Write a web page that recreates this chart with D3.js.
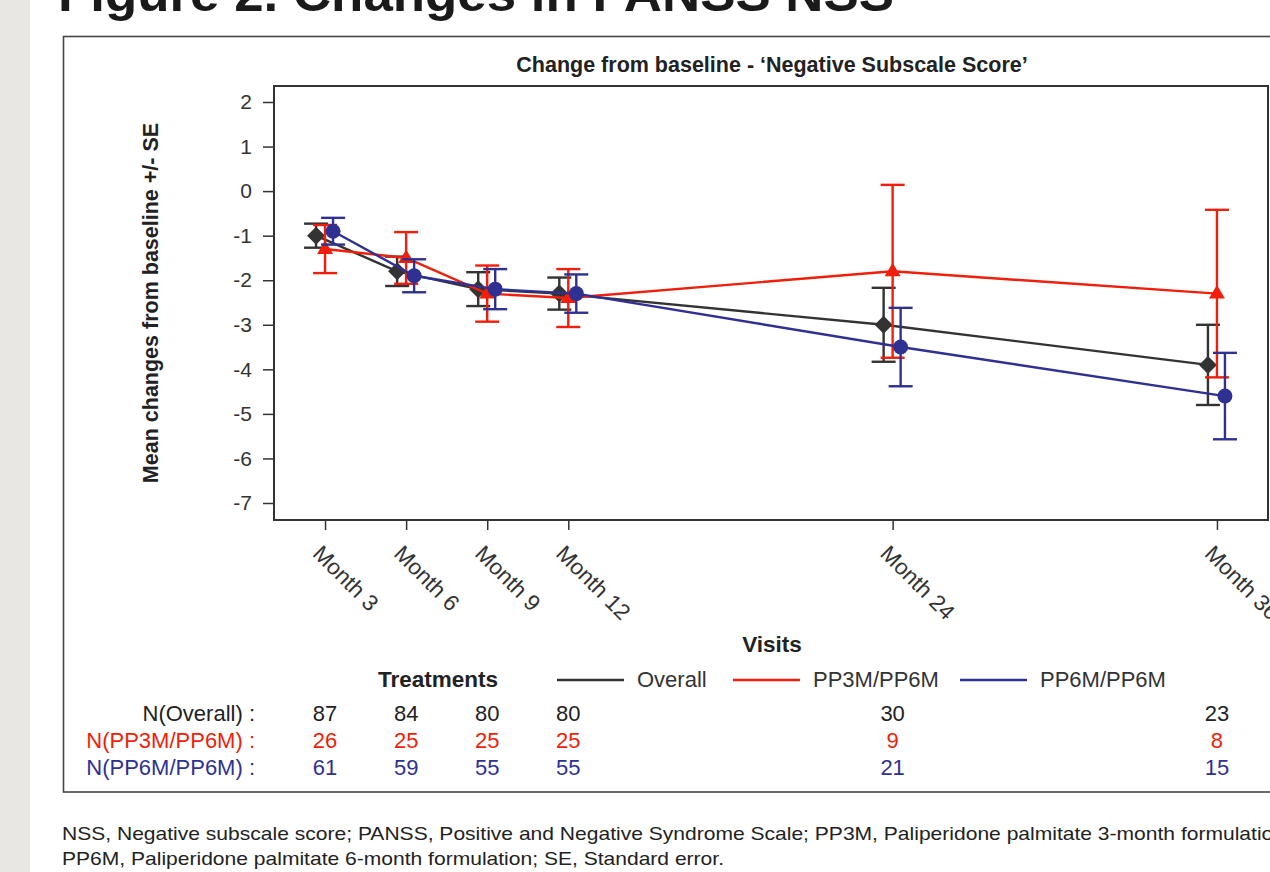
<!DOCTYPE html>
<html><head><meta charset="utf-8">
<script src="https://cdn.jsdelivr.net/npm/d3@7"></script>
<style>body{margin:0;background:#fff} svg{display:block}</style>
</head><body>
<svg id="c" width="1270" height="872"></svg>
<script>
// ---- data ----
const months = [3, 6, 9, 12, 24, 36];
const monthLabels = ["Month 3", "Month 6", "Month 9", "Month 12", "Month 24", "Month 36"];
const overallMean = [-1.0, -1.8, -2.2, -2.3, -3.0, -3.9];
const overallSE   = [0.27, 0.33, 0.38, 0.36, 0.83, 0.90];
const pp3mMean    = [-1.3, -1.5, -2.3, -2.4, -1.8, -2.3];
const pp3mSE      = [0.54, 0.58, 0.63, 0.65, 1.94, 1.88];
const pp6mMean    = [-0.9, -1.9, -2.2, -2.3, -3.5, -4.6];
const pp6mSE      = [0.30, 0.37, 0.45, 0.43, 0.88, 0.97];
const yTicks = [2, 1, 0, -1, -2, -3, -4, -5, -6, -7];
const nOverall = [87, 84, 80, 80, 30, 23];
const nPP3M    = [26, 25, 25, 25, 9, 8];
const nPP6M    = [61, 59, 55, 55, 21, 15];
const seriesNames = ["Overall", "PP3M/PP6M", "PP6M/PP6M"];
const rowLabels = ["N(Overall) :", "N(PP3M/PP6M) :", "N(PP6M/PP6M) :"];

// ---- styles ----
const DARK = "#333333", RED = "#f01e0a", BLUE = "#2e3192";
const FONT = "'Liberation Sans', Arial, Helvetica, sans-serif";
const svg = d3.select("#c");

// page decoration
svg.append("rect").attr("x", 0).attr("y", 0).attr("width", 30).attr("height", 872).attr("fill", "#e8e7e3");
svg.append("text").attr("x", 58).attr("y", 11)
  .attr("font-family", FONT).attr("font-weight", "bold").attr("font-size", 50)
  .attr("fill", "#1a1a1a").attr("textLength", 836).attr("lengthAdjust", "spacingAndGlyphs")
  .text("Figure 2. Changes in PANSS NSS");
svg.append("rect").attr("x", 63.5).attr("y", 36.5).attr("width", 1300).attr("height", 755.5)
  .attr("fill", "none").attr("stroke", "#444").attr("stroke-width", 1.6);

// ---- scales ----
const L = 274, R = 1268, T = 86, B = 520;
const x = d3.scaleLinear().domain([3 - 51 / 27, 36 + 51 / 27]).range([L, R]);
const y = d3.scaleLinear().domain([-7 - 17 / 44.56, 2 + 16 / 44.56]).range([B, T]);

// chart title
svg.append("text").attr("x", 772).attr("y", 72).attr("text-anchor", "middle")
  .attr("font-family", FONT).attr("font-weight", "bold").attr("font-size", 21.5).attr("fill", "#222")
  .text("Change from baseline - \u2018Negative Subscale Score\u2019");

// axes
const yAxis = svg.append("g").attr("transform", `translate(${L},0)`)
  .call(d3.axisLeft(y).tickValues(yTicks).tickSize(11).tickPadding(11).tickFormat(d => String(d)));
yAxis.select(".domain").remove();
yAxis.selectAll(".tick line").attr("stroke", DARK).attr("stroke-width", 1.5);
yAxis.selectAll(".tick text").attr("font-family", FONT).attr("font-size", 21).attr("fill", DARK);

const xAxis = svg.append("g").attr("transform", `translate(0,${B})`)
  .call(d3.axisBottom(x).tickValues(months).tickSize(10).tickFormat((d, i) => monthLabels[i]));
xAxis.select(".domain").remove();
xAxis.selectAll(".tick line").attr("stroke", DARK).attr("stroke-width", 1.5);
xAxis.selectAll(".tick text")
  .attr("font-family", FONT).attr("font-size", 22.5).attr("fill", DARK)
  .attr("text-anchor", "start").attr("y", 0).attr("dy", 0)
  .attr("transform", "translate(-14,35) rotate(45)");

svg.append("rect").attr("x", L).attr("y", T).attr("width", R - L).attr("height", B - T)
  .attr("fill", "none").attr("stroke", DARK).attr("stroke-width", 2);

// y label
svg.append("text").attr("transform", `translate(158,${(T + B) / 2}) rotate(-90)`)
  .attr("text-anchor", "middle").attr("font-family", FONT).attr("font-weight", "bold")
  .attr("font-size", 21.5).attr("fill", "#222").text("Mean changes from baseline +/- SE");

// ---- series ----
const series = [
  { name: seriesNames[0], mean: overallMean, se: overallSE, color: DARK, dx: -9, shape: "diamond" },
  { name: seriesNames[1], mean: pp3mMean, se: pp3mSE, color: RED, dx: 0, shape: "triangle" },
  { name: seriesNames[2], mean: pp6mMean, se: pp6mSE, color: BLUE, dx: 8, shape: "circle" }
];
const shapes = {
  diamond: "M0,-9L9,0L0,9L-9,0Z",
  triangle: "M0,-8.5L8,5L-8,5Z",
  circle: "M7.5,0A7.5,7.5 0 1,1 -7.5,0A7.5,7.5 0 1,1 7.5,0Z"
};
const line = d3.line();
series.forEach(s => {
  const g = svg.append("g");
  const pts = months.map((m, i) => [x(m) + s.dx, y(s.mean[i])]);
  g.append("path").attr("d", line(pts)).attr("fill", "none").attr("stroke", s.color).attr("stroke-width", 2.4);
  months.forEach((m, i) => {
    const cx = x(m) + s.dx, hi = y(s.mean[i] + s.se[i]), lo = y(s.mean[i] - s.se[i]);
    g.append("line").attr("x1", cx).attr("x2", cx).attr("y1", hi).attr("y2", lo)
      .attr("stroke", s.color).attr("stroke-width", 2.4);
    [hi, lo].forEach(yy => g.append("line").attr("x1", cx - 12).attr("x2", cx + 12)
      .attr("y1", yy).attr("y2", yy).attr("stroke", s.color).attr("stroke-width", 2.4));
    g.append("path").attr("d", shapes[s.shape]).attr("transform", `translate(${cx},${y(s.mean[i])})`)
      .attr("fill", s.color);
  });
});

// x title
svg.append("text").attr("x", 772).attr("y", 652).attr("text-anchor", "middle")
  .attr("font-family", FONT).attr("font-weight", "bold").attr("font-size", 22.5).attr("fill", "#222").text("Visits");

// legend
svg.append("text").attr("x", 378).attr("y", 687).attr("font-family", FONT).attr("font-weight", "bold")
  .attr("font-size", 22.5).attr("fill", "#222").text("Treatments");
const legX = [557, 733, 960];
series.forEach((s, i) => {
  svg.append("line").attr("x1", legX[i]).attr("x2", legX[i] + 67).attr("y1", 680).attr("y2", 680)
    .attr("stroke", s.color).attr("stroke-width", 2.4);
  svg.append("text").attr("x", legX[i] + 80).attr("y", 687).attr("font-family", FONT)
    .attr("font-size", 22).attr("fill", DARK).text(s.name);
});

// N table
const nRows = [nOverall, nPP3M, nPP6M];
const rowColors = ["#222", RED, BLUE];
const rowY = [721, 748, 775];
nRows.forEach((row, r) => {
  svg.append("text").attr("x", 255).attr("y", rowY[r]).attr("text-anchor", "end")
    .attr("font-family", FONT).attr("font-size", 22).attr("fill", rowColors[r]).text(rowLabels[r]);
  row.forEach((n, i) => svg.append("text").attr("x", x(months[i])).attr("y", rowY[r])
    .attr("text-anchor", "middle").attr("font-family", FONT).attr("font-size", 22)
    .attr("fill", rowColors[r]).text(n));
});

// footnote
const f1 = svg.append("text").attr("x", 62).attr("y", 840).attr("font-family", FONT)
  .attr("font-size", 19).attr("fill", "#222")
  .text("NSS, Negative subscale score; PANSS, Positive and Negative Syndrome Scale; PP3M, Paliperidone palmitate 3-month formulation;");
const f2 = svg.append("text").attr("x", 62).attr("y", 865).attr("font-family", FONT)
  .attr("font-size", 19).attr("fill", "#222")
  .text("PP6M, Paliperidone palmitate 6-month formulation; SE, Standard error.");
const ratio = 662 / f2.node().getComputedTextLength();
const l1 = f1.node().getComputedTextLength() * ratio;
f2.attr("textLength", 662).attr("lengthAdjust", "spacingAndGlyphs");
f1.attr("textLength", l1).attr("lengthAdjust", "spacingAndGlyphs");
</script>
</body></html>
